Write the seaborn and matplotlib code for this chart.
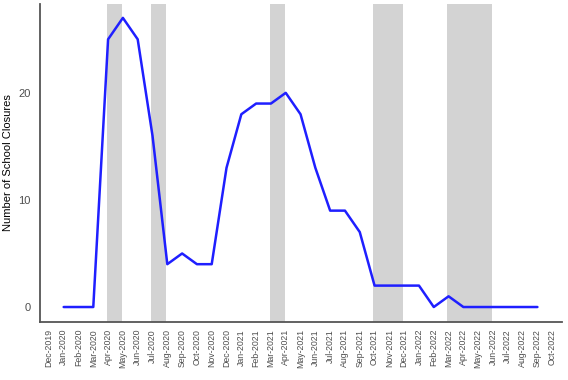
import seaborn as sns
import matplotlib.pyplot as plt
import pandas as pd
import numpy as np

sns.set_style("white")
plt.rcParams['font.family'] = ['Liberation Sans', 'DejaVu Sans']

months = ['Dec-2019', 'Jan-2020', 'Feb-2020', 'Mar-2020', 'Apr-2020', 'May-2020', 'Jun-2020',
          'Jul-2020', 'Aug-2020', 'Sep-2020', 'Oct-2020', 'Nov-2020', 'Dec-2020',
          'Jan-2021', 'Feb-2021', 'Mar-2021', 'Apr-2021', 'May-2021', 'Jun-2021',
          'Jul-2021', 'Aug-2021', 'Sep-2021', 'Oct-2021', 'Nov-2021', 'Dec-2021',
          'Jan-2022', 'Feb-2022', 'Mar-2022', 'Apr-2022', 'May-2022', 'Jun-2022',
          'Jul-2022', 'Aug-2022', 'Sep-2022', 'Oct-2022']

# closures from Jan-2020 to Sep-2022
closure_months = months[1:34]
closures = [0, 0, 0, 25, 27, 25, 16, 4, 5, 4, 4, 13,
            18, 19, 19, 20, 18, 13, 9, 9, 7, 2, 2, 2,
            2, 0, 1, 0, 0, 0, 0, 0, 0]

# shaded periods (start month, end month)
shaded = [('Apr-2020', 'May-2020'), ('Jul-2020', 'Aug-2020'), ('Mar-2021', 'Apr-2021'),
          ('Oct-2021', 'Dec-2021'), ('Mar-2022', 'Jun-2022')]

idx = {m: i for i, m in enumerate(months)}
df = pd.DataFrame({'month': [idx[m] for m in closure_months], 'closures': closures})

fig = plt.figure(figsize=(5.68, 3.80), dpi=100)
ax = fig.add_axes([0.0704, 0.1526, 0.919, 0.837])

for s, e in shaded:
    ax.axvspan(idx[s] - 0.08, idx[e] - 0.08, color='#d3d3d3', lw=0, zorder=0)

sns.lineplot(data=df, x='month', y='closures', color='#1f1fff', lw=1.8, ax=ax, zorder=3)

ax.set_xlim(-0.6, 34.66)
ax.set_ylim(-1.4, 28.3)
ax.set_xticks(range(len(months)))
ax.set_xticklabels(months, rotation=90, fontsize=6.3, color='#4d4d4d')
ax.set_yticks([0, 10, 20])
ax.tick_params(axis='y', labelsize=8, labelcolor='#4d4d4d', length=3, color='#555555')
ax.tick_params(axis='x', length=3, color='#555555', pad=2)
ax.set_xlabel('')
ax.set_ylabel('Number of School Closures', fontsize=8, color='black')

sns.despine(ax=ax)
for sp in ['left', 'bottom']:
    ax.spines[sp].set_color('#555555')
    ax.spines[sp].set_linewidth(1.3)

fig.savefig('out.png', dpi=100)
